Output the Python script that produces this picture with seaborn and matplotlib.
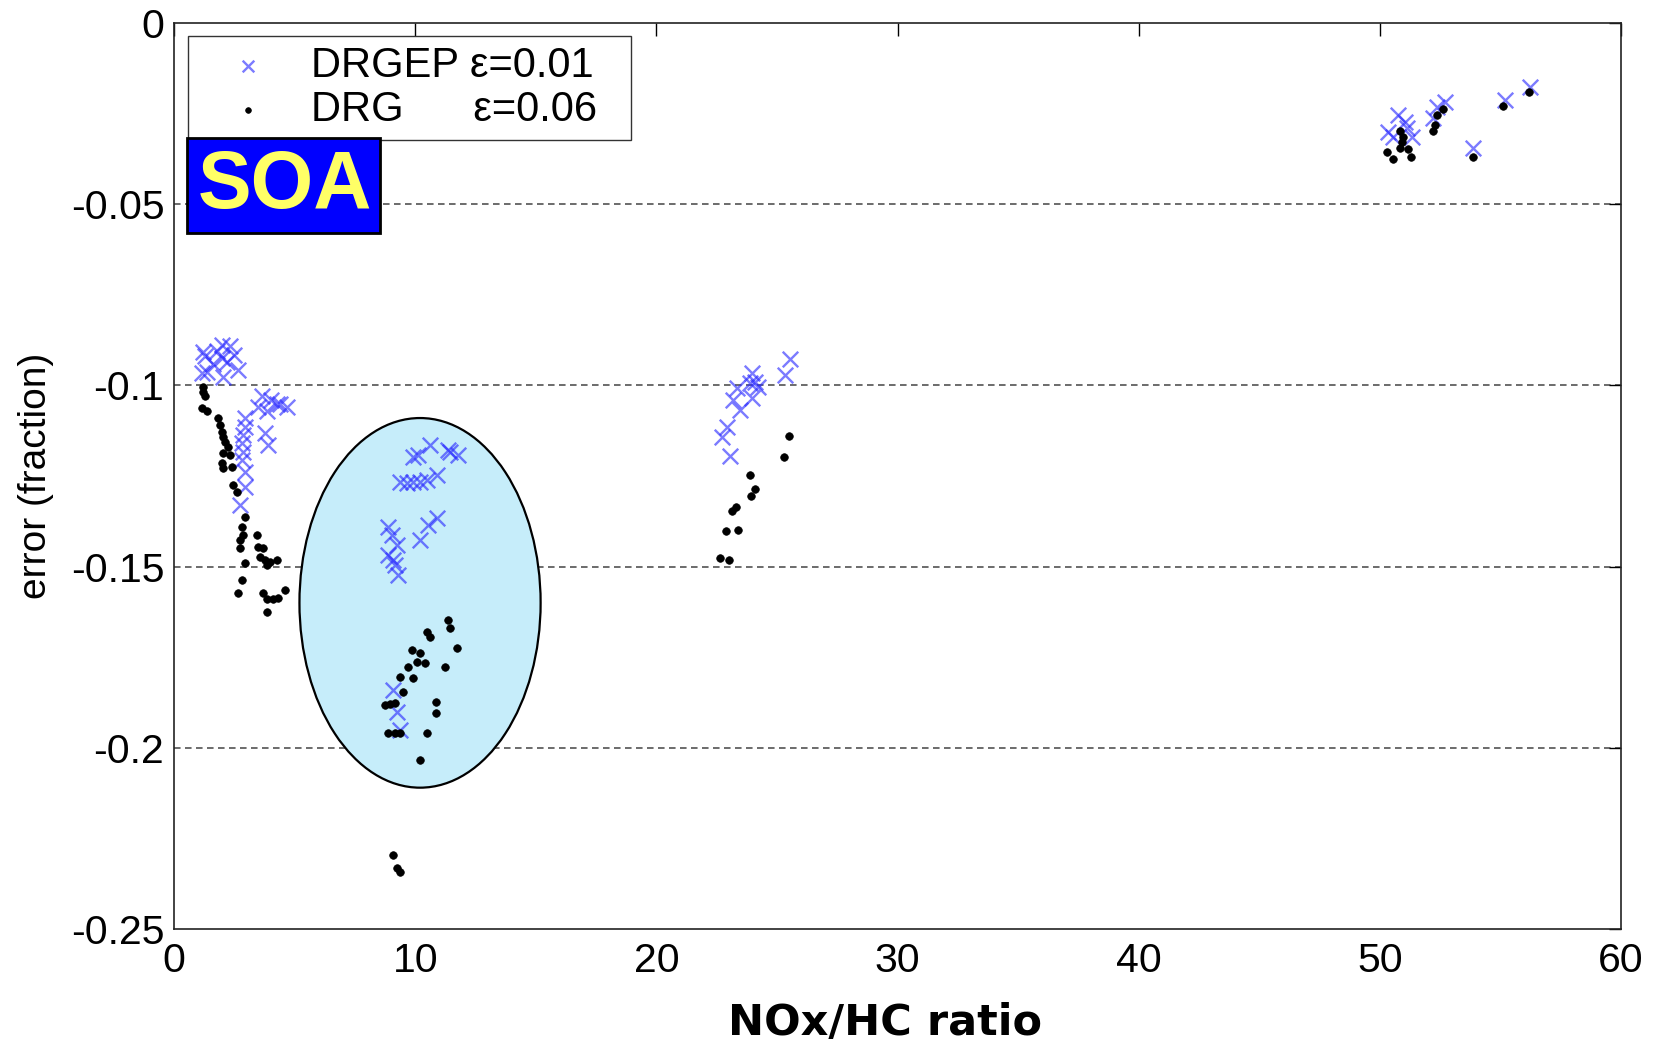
import numpy as np
import pandas as pd
import matplotlib
matplotlib.use("Agg")
import matplotlib.pyplot as plt
from matplotlib.patches import Ellipse, Rectangle
from matplotlib.ticker import FixedLocator, FixedFormatter
import seaborn as sns

# ---- data: error of reduced mechanisms vs NOx/HC ratio ----
drgep_x = [1.2, 2.0, 2.3, 2.5, 2.0, 1.37, 2.03, 2.65, 1.16, 1.6, 1.3, 1.8, 2.2,
           3.65, 4.0, 4.4, 4.68, 3.5, 3.85, 3.77, 3.9, 4.27,
           2.94, 2.94, 2.87, 2.82, 2.87, 2.82, 2.94, 2.94, 2.74,
           9.9, 10.1, 10.6, 11.36, 11.77, 11.44, 9.38, 9.66, 9.91, 10.2, 10.49, 10.9,
           8.87, 9.04, 10.9, 10.53, 10.2, 9.25, 8.87, 9.08, 9.16, 9.29, 9.08, 9.25, 9.37,
           25.54, 25.33, 23.96, 24.09, 23.88, 24.21, 23.34, 23.18, 23.96, 23.47, 22.93,
           22.72, 23.05,
           50.75, 51.04, 50.33, 50.54, 51.33, 51.12, 52.7, 52.36, 52.2, 53.86, 55.18,
           56.22]
drgep_y = [-0.0908, -0.0889, -0.089, -0.0916, -0.0925, -0.0963, -0.0977, -0.0958,
           -0.0966, -0.094, -0.092, -0.0905, -0.0935,
           -0.103, -0.104, -0.105, -0.106, -0.106, -0.107, -0.113, -0.1165, -0.105,
           -0.109, -0.1114, -0.1137, -0.116, -0.1183, -0.1206, -0.124, -0.128, -0.133,
           -0.1197, -0.1192, -0.1165, -0.1178, -0.1192, -0.1183, -0.1267, -0.127,
           -0.1267, -0.1267, -0.126, -0.1247,
           -0.139, -0.1413, -0.1366, -0.1385, -0.1427, -0.144, -0.1468, -0.1482,
           -0.1496, -0.1523, -0.184, -0.19, -0.195,
           -0.0927, -0.0971, -0.0966, -0.099, -0.0994, -0.1004, -0.1008, -0.104,
           -0.1035, -0.1068, -0.1115, -0.1142, -0.1195,
           -0.0254, -0.0273, -0.0301, -0.0315, -0.0315, -0.029, -0.0218, -0.0232,
           -0.0262, -0.0345, -0.0212, -0.0177]

drg_x = [1.2, 1.2, 1.28, 1.16, 1.37, 1.82, 1.9, 2.0, 2.03, 2.1, 2.24, 2.03, 2.32,
         2.0, 2.4, 2.03, 2.45, 2.6, 2.94, 2.82, 2.87, 2.74, 3.44, 3.5, 3.7, 3.57,
         3.77, 3.98, 4.27, 3.85, 2.74, 2.94, 2.82, 2.65, 3.7, 3.85, 4.1, 4.3, 4.6, 3.85,
         11.36, 11.44, 10.49, 10.6, 11.73, 9.87, 10.2, 10.07, 10.4, 9.7, 11.23, 9.37,
         9.9, 9.5, 8.75, 8.96, 9.16, 10.86, 10.86, 8.87, 9.16, 9.37, 10.49, 10.2,
         9.08, 9.25, 9.37,
         25.5, 25.29, 23.88, 24.09, 23.92, 23.3, 23.13, 22.89, 23.38, 22.64, 23.0,
         52.6, 52.36, 52.28, 52.2, 50.83, 50.96, 50.9, 50.83, 51.16, 50.3, 50.54,
         51.29, 53.86, 55.1, 56.18]
drg_y = [-0.1004, -0.1018, -0.103, -0.1062, -0.107, -0.109, -0.111, -0.1128,
         -0.1142, -0.1156, -0.117, -0.1187, -0.1192, -0.1215, -0.1225, -0.1228,
         -0.1275, -0.1294, -0.1363, -0.139, -0.1413, -0.1427, -0.1413, -0.1446,
         -0.1449, -0.1473, -0.1482, -0.1487, -0.1482, -0.1496, -0.1449, -0.149,
         -0.1537, -0.1573, -0.1573, -0.159, -0.159, -0.1587, -0.1565, -0.1625,
         -0.1647, -0.167, -0.168, -0.1694, -0.1724, -0.173, -0.1738, -0.1763,
         -0.1766, -0.1777, -0.1777, -0.1805, -0.1808, -0.1846, -0.1882, -0.1879,
         -0.1876, -0.1874, -0.1904, -0.196, -0.196, -0.196, -0.196, -0.2034,
         -0.2296, -0.2332, -0.2343,
         -0.114, -0.1198, -0.1247, -0.1286, -0.1305, -0.1336, -0.1347, -0.1402,
         -0.1399, -0.1476, -0.1482,
         -0.0237, -0.0254, -0.0282, -0.0298, -0.0298, -0.0315, -0.0328, -0.0345,
         -0.0348, -0.0356, -0.0375, -0.037, -0.037, -0.0229, -0.019]

x_ticks = [0, 10, 20, 30, 40, 50, 60]
y_ticks = [0, -0.05, -0.1, -0.15, -0.2, -0.25]
y_tick_labels = ["0", "-0.05", "-0.1", "-0.15", "-0.2", "-0.25"]
grid_levels = [-0.05, -0.1, -0.15, -0.2]

label_drgep = "DRGEP ε=0.01  "
label_drg = "DRG      ε=0.06  "

# ---- styling ----
sns.set_theme(style="white")
plt.rcParams["font.family"] = ["Liberation Sans", "DejaVu Sans"]
plt.rcParams["axes.unicode_minus"] = False
plt.rcParams["text.color"] = "black"
plt.rcParams["axes.labelcolor"] = "black"

fig = plt.figure(figsize=(16.56, 10.47), dpi=100)
ax = fig.add_axes([0.1051, 0.1127, 0.8738, 0.8653])

# highlighted region
ax.add_patch(Ellipse((10.2, -0.16), 10.0, 0.102, facecolor="#c6edfa",
                     edgecolor="black", linewidth=1.6, zorder=1))

for g in grid_levels:
    ax.axhline(g, color="#444444", linewidth=1.1, linestyle=(0, (4.3, 2.9)), zorder=0.5)

df_a = pd.DataFrame({"x": drgep_x, "y": drgep_y})
df_b = pd.DataFrame({"x": drg_x, "y": drg_y})

sns.scatterplot(data=df_a, x="x", y="y", ax=ax, marker="x", s=125,
                color="#2a2aff", alpha=0.62, linewidth=1.7, label=label_drgep, zorder=3)
sns.scatterplot(data=df_b, x="x", y="y", ax=ax, marker="o", s=30,
                color="black", edgecolor="black", linewidth=0.5, label=label_drg, zorder=4)

ax.set_xlim(0, 60)
ax.set_ylim(-0.25, 0)
ax.xaxis.set_major_locator(FixedLocator(x_ticks))
ax.yaxis.set_major_locator(FixedLocator(y_ticks))
ax.yaxis.set_major_formatter(FixedFormatter(y_tick_labels))
ax.tick_params(axis="both", which="major", direction="in", length=9, width=1,
               labelsize=29.5, colors="black", top=True, right=True)
ax.tick_params(axis="x", pad=9)
ax.tick_params(axis="y", pad=7)
for sp in ax.spines.values():
    sp.set_color("#222222")
    sp.set_linewidth(1.2)

ax.set_xlabel("NOx/HC ratio", fontsize=31, fontweight="bold", labelpad=16,
              family=["DejaVu Sans"], color="black")
ax.xaxis.label.set_x(0.491)
ax.set_ylabel("error (fraction)", fontsize=28, labelpad=12, color="black")

leg = ax.legend(loc="upper left", bbox_to_anchor=(0.0097, 0.9857), borderaxespad=0,
                fontsize=30, frameon=True, fancybox=False, framealpha=1,
                edgecolor="#333333", handlelength=2.4, handletextpad=0.3,
                borderpad=0.25, labelspacing=0.08, markerscale=0.75)
leg.get_frame().set_linewidth(1.0)
leg.set_zorder(6)
for t in leg.get_texts():
    t.set_color("black")

# label box
ax.add_patch(Rectangle((0.009, 0.768), 0.1334, 0.105, transform=ax.transAxes,
                       facecolor="#0000ff", edgecolor="black", linewidth=2, zorder=7))
ax.text(0.0767, 0.819, "SOA", transform=ax.transAxes, ha="center", va="center",
        fontsize=58, fontweight="bold", color="#ffff66", zorder=8)

fig.savefig("out.png", dpi=100)
